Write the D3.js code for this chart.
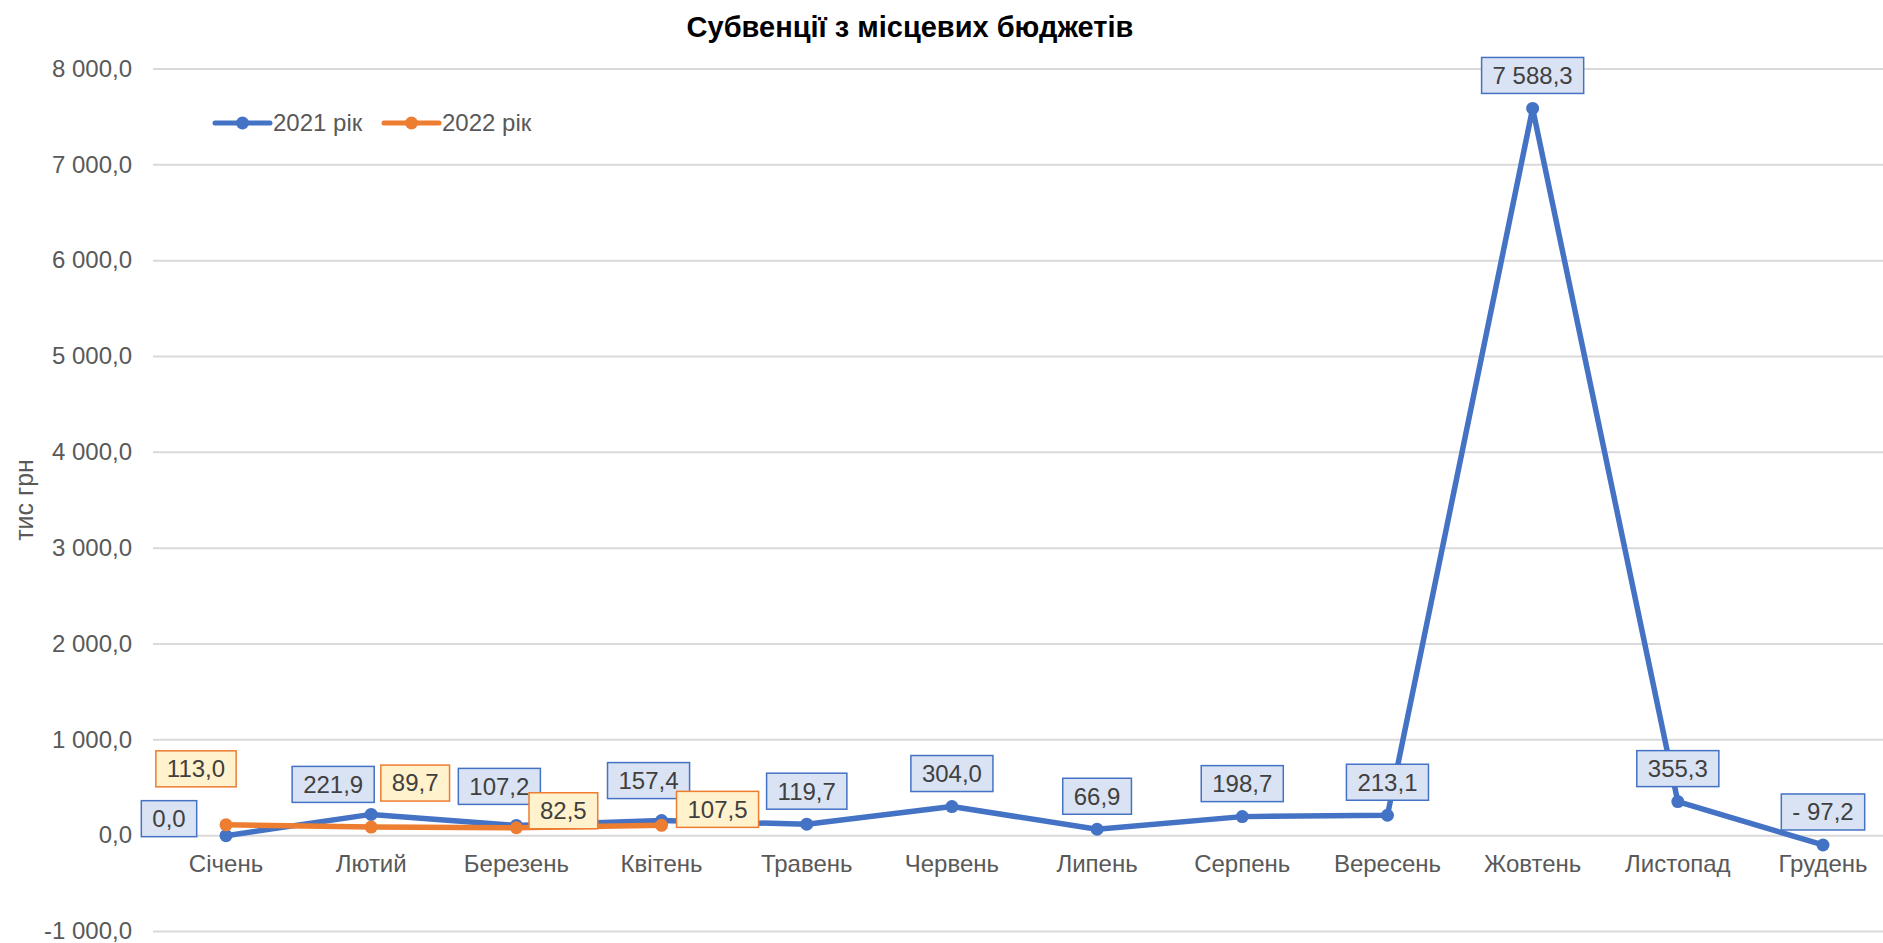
<!DOCTYPE html>
<html><head><meta charset="utf-8">
<script src="https://cdn.jsdelivr.net/npm/d3@7"></script>
<style>body{margin:0;background:#fff}svg{display:block}text{font-family:"Liberation Sans",Arial,sans-serif}</style>
</head><body><svg id="c" width="1883" height="943"></svg>
<script>
const months = ["Січень","Лютий","Березень","Квітень","Травень","Червень","Липень","Серпень","Вересень","Жовтень","Листопад","Грудень"];
const values2021 = [0.0, 221.9, 107.2, 157.4, 119.7, 304.0, 66.9, 198.7, 213.1, 7588.3, 355.3, -97.2];
const values2022 = [113.0, 89.7, 82.5, 107.5];
const yTicks = [-1000, 0, 1000, 2000, 3000, 4000, 5000, 6000, 7000, 8000];
const seriesNames = ["2021 рік", "2022 рік"];
const titleText = "Субвенції з місцевих бюджетів";
const yTitle = "тис грн";

// label nudges (pixels, relative to point) – layout only
const nudge2021 = [[-57,-17],[-38,-30],[-17,-39],[-13,-40],[0,-33],[0,-33],[0,-33],[0,-33],[0,-33],[0,-33],[0,-33],[0,-33]];
const nudge2022 = [[-30,-56],[44,-44],[47,-17],[56,-16]];

const svg = d3.select("#c");
const x = d3.scalePoint().domain(months).range([226, 1823]);
const y = d3.scaleLinear().domain([-1000, 8000]).range([931.5, 69]);
const fmt = v => {
  const s = d3.format(",.1f")(Math.abs(v)).replace(/,/g, " ").replace(".", ",");
  return (v < 0 ? "-" : "") + s;
};
const fmtLabel = v => v < 0 ? "- " + fmt(-v) : fmt(v);

// gridlines
svg.append("g").selectAll("line").data(yTicks).join("line")
  .attr("x1", 153).attr("x2", 1883)
  .attr("y1", d => y(d)).attr("y2", d => y(d))
  .attr("stroke", "#d9d9d9").attr("stroke-width", 2);

// y tick labels
svg.append("g").selectAll("text").data(yTicks).join("text")
  .attr("x", 132).attr("y", d => y(d)).attr("dy", "0.32em")
  .attr("text-anchor", "end").attr("font-size", 24).attr("fill", "#595959")
  .text(d => fmt(d));

// category labels
svg.append("g").selectAll("text").data(months).join("text")
  .attr("x", d => x(d)).attr("y", y(0) + 36)
  .attr("text-anchor", "middle").attr("font-size", 24).attr("fill", "#595959")
  .text(d => d);

// title
svg.append("text").attr("x", 910).attr("y", 37).attr("text-anchor", "middle")
  .attr("font-size", 29).attr("font-weight", "bold").attr("fill", "#000").text(titleText);

// y title
svg.append("text").attr("transform", "translate(33,500) rotate(-90)")
  .attr("text-anchor", "middle").attr("font-size", 25).attr("fill", "#595959").text(yTitle);

const colors = ["#4472C4", "#ED7D31"];
const fills = ["#DAE3F3", "#FFF2CC"];
const series = [
  {vals: values2021, nudge: nudge2021},
  {vals: values2022, nudge: nudge2022}
];
const line = d3.line().x(d => x(d.m)).y(d => y(d.v));

series.forEach((s, i) => {
  const pts = s.vals.map((v, j) => ({m: months[j], v}));
  svg.append("path").datum(pts).attr("d", line).attr("fill", "none")
    .attr("stroke", colors[i]).attr("stroke-width", 5.5).attr("stroke-linejoin", "round").attr("stroke-linecap", "round");
  svg.append("g").selectAll("circle").data(pts).join("circle")
    .attr("cx", d => x(d.m)).attr("cy", d => y(d.v)).attr("r", 6.5).attr("fill", colors[i]);
});

// data labels
series.forEach((s, i) => {
  const g = svg.append("g");
  s.vals.forEach((v, j) => {
    const cx = x(months[j]) + s.nudge[j][0];
    const cy = y(v) + s.nudge[j][1];
    const t = g.append("text").attr("x", cx).attr("y", cy).attr("dy", "0.35em")
      .attr("text-anchor", "middle").attr("font-size", 24).attr("fill", "#404040").text(fmtLabel(v));
    const w = t.node().getComputedTextLength() + 22;
    g.insert("rect", "text").attr("x", cx - w / 2).attr("y", cy - 18).attr("width", w).attr("height", 36)
      .attr("fill", fills[i]).attr("stroke", colors[i]).attr("stroke-width", 1.5);
  });
});

// legend
const leg = svg.append("g");
const legX = [215, 384];
seriesNames.forEach((n, i) => {
  const lx = legX[i];
  leg.append("line").attr("x1", lx).attr("x2", lx + 55).attr("y1", 123).attr("y2", 123)
    .attr("stroke", colors[i]).attr("stroke-width", 5).attr("stroke-linecap", "round");
  leg.append("circle").attr("cx", lx + 27.5).attr("cy", 123).attr("r", 6.5).attr("fill", colors[i]);
  leg.append("text").attr("x", lx + 58).attr("y", 123).attr("dy", "0.35em")
    .attr("font-size", 24).attr("fill", "#595959").text(n);
});
</script></body></html>
